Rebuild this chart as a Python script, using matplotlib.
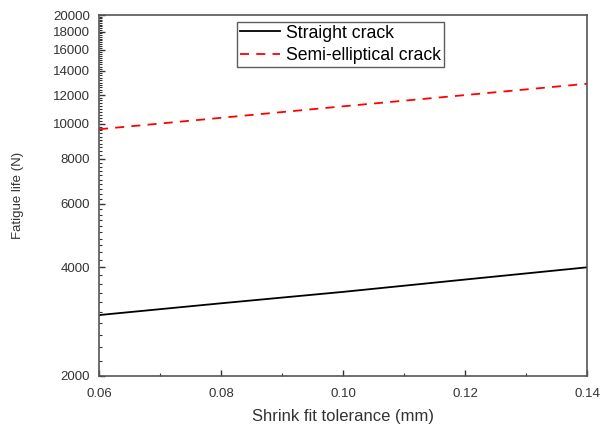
import matplotlib.pyplot as plt
import numpy as np
from matplotlib.ticker import MultipleLocator, FixedLocator, NullFormatter

plt.rcParams['font.family'] = ['Liberation Sans', 'DejaVu Sans']

# shrink fit tolerance (mm)
tolerance = [0.06, 0.08, 0.10, 0.12, 0.14]
# fatigue life (N)
straight = [2950, 3180, 3420, 3700, 4000]
semi_elliptical = [9650, 10380, 11170, 12000, 12900]

yticks = [2000, 4000, 6000, 8000, 10000, 12000, 14000, 16000, 18000, 20000]

fig = plt.figure(figsize=(6.11, 4.26), dpi=100)
ax = fig.add_axes([99/611, 1-376/426, (587-99)/611, (376-15)/426])

ax.plot(tolerance, straight, color='black', lw=1.3, label='Straight crack')
ax.plot(tolerance, semi_elliptical, color='red', lw=1.3, ls=(0, (5, 4)),
        label='Semi-elliptical crack')

ax.set_yscale('log')
ax.set_ylim(2000, 20000)
ax.set_xlim(0.06, 0.14)
ax.yaxis.set_major_locator(FixedLocator(yticks))
ax.yaxis.set_major_formatter(plt.FixedFormatter([str(t) for t in yticks]))
ax.yaxis.set_minor_locator(MultipleLocator(200))
ax.yaxis.set_minor_formatter(NullFormatter())
ax.set_xticks([0.06, 0.08, 0.10, 0.12, 0.14])
ax.set_xticklabels(['0.06', '0.08', '0.10', '0.12', '0.14'])
ax.xaxis.set_minor_locator(MultipleLocator(0.01))

ax.tick_params(which='both', direction='in', labelsize=9.5, colors='#333333')
ax.tick_params(which='major', length=4, width=1)
ax.tick_params(which='minor', length=2.2, width=0.8)
ax.tick_params(axis='x', pad=8.5)
ax.tick_params(axis='y', pad=6.5)
for s in ax.spines.values():
    s.set_color('#555555')
    s.set_linewidth(1.2)

ax.set_xlabel('Shrink fit tolerance (mm)', fontsize=12, color='#333333')
ax.set_ylabel('Fatigue life (N)', fontsize=9.5, color='#333333')
ax.xaxis.label.set_va('baseline')
ax.xaxis.set_label_coords(0.5, (376-421)/361)
ax.yaxis.set_label_coords(-0.154, 0.5)

leg = ax.legend(loc='upper left', bbox_to_anchor=(138/488, 1-7/361), fontsize=12.7,
                frameon=True, fancybox=False, edgecolor='#333333',
                handlelength=2.3, borderpad=0.15, labelspacing=0.3,
                handletextpad=0.35, borderaxespad=0.0)
leg.get_frame().set_linewidth(1.0)

plt.savefig('out.png', dpi=100)
